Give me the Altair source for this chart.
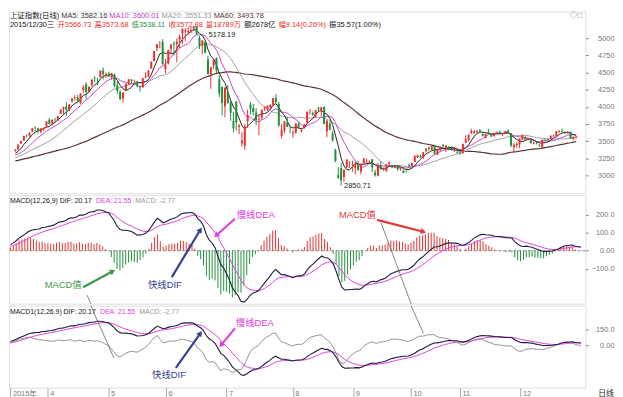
import altair as alt
import numpy as np
import pandas as pd

FONT = "Liberation Sans, Noto Sans CJK SC"
RED = "#e8302e"
GREEN = "#1f8f3a"
DIFC = "#1c1c3c"
DEAC = "#e040e0"

# ---------------- data ----------------
# closes before the visible window (Dec 2014 - 9 Mar 2015), used for MA / EMA warm-up only
pre_close = [2680, 2763, 2779, 2899, 2937, 3020, 2856, 2940, 2925, 2938, 2953, 3021, 3061, 3057, 3108, 3128, 3032, 2975, 3072, 3157, 3168, 3165, 3234,
             3351, 3352, 3374, 3294, 3285, 3229, 3235, 3222, 3336, 3376, 3116, 3173, 3323, 3343, 3351, 3383, 3352, 3305, 3262, 3210,
             3128, 3204, 3174, 3136, 3075, 3095, 3142, 3158, 3173, 3203, 3247, 3269, 3228, 3298, 3310,
             3336, 3263, 3280, 3248, 3241, 3302]

month_names = ["2015年", "4", "5", "6", "7", "8", "9", "10", "11", "12"]
month_days = [16, 21, 20, 21, 23, 21, 20, 17, 21, 22]

opens = [3294, 3289, 3282, 3357, 3378, 3466, 3510, 3586, 3577, 3640, 3696, 3684, 3635, 3675, 3712, 3811,
         3757, 3831, 3803, 3899, 3965, 4006, 3941, 4080, 4125, 4135, 4051, 4245, 4329, 4229, 4319, 4422, 4395, 4429, 4528, 4450, 4483,
         4429, 4469, 4309, 4217, 4123, 4242, 4339, 4399, 4375, 4364, 4296, 4285, 4426, 4439, 4554, 4668, 4854, 4940, 4943, 4550,
         4633, 4845, 4925, 4914, 4982, 5071, 5099, 5086, 5108, 5144, 5174, 5004, 4890, 4942, 4690, 4471, 4605, 4711, 4400, 4289, 4006,
         4214, 4058, 3793, 4077, 3707, 3468, 3432, 3789, 4034, 3983, 3917, 3813, 3842, 3974, 3962, 3992, 4029, 4126, 4042, 3574, 3650, 3770, 3665,
         3614, 3624, 3749, 3644, 3692, 3765, 3926, 3908, 3861, 3986, 3935, 3998, 3645, 3755, 3609, 3373, 3004, 3106, 2978, 3125, 3204,
         3158, 3111, 3149, 3054, 3176, 3190, 3189, 3237, 3043, 2997, 3143, 3086, 3068, 3163, 3147, 3114, 3122, 3086, 3069, 3055,
         3156, 3138, 3195, 3262, 3280, 3252, 3358, 3402, 3380, 3426, 3301, 3377, 3445, 3389, 3415, 3397, 3375,
         3337, 3330, 3325, 3475, 3514, 3617, 3620, 3638, 3655, 3603, 3547, 3631, 3603, 3576, 3625, 3633, 3603, 3610, 3654, 3616, 3413,
         3442, 3453, 3525, 3558, 3525, 3514, 3462, 3464, 3443, 3405, 3519, 3523, 3532, 3568, 3573, 3638, 3648, 3623, 3614, 3635, 3528, 3566.73]

highs = [3301, 3306, 3358, 3384, 3450, 3503, 3577, 3600, 3632, 3688, 3715, 3697, 3690, 3702, 3789, 3836,
         3817, 3835, 3866, 3961, 4002, 4069, 4035, 4128, 4168, 4175, 4195, 4318, 4356, 4294, 4398, 4444, 4420, 4529, 4572, 4500, 4513,
         4489, 4483, 4372, 4245, 4215, 4344, 4401, 4403, 4395, 4377, 4311, 4418, 4504, 4530, 4659, 4814, 4911, 4958, 4986, 4697,
         4829, 4911, 4958, 4998, 5051, 5146, 5147, 5164, 5164, 5178.19, 5176, 5029, 4968, 4966, 4744, 4577, 4691, 4720, 4456, 4297, 4287,
         4318, 4080, 3927, 4080, 3749, 3629, 3749, 3959, 4067, 4042, 3979, 3874, 3958, 4007, 4018, 4039, 4132, 4184, 4070, 3750, 3790, 3856, 3713,
         3660, 3757, 3782, 3684, 3755, 3929, 3970, 3932, 3955, 4003, 3994, 4006, 3811, 3787, 3652, 3389, 3123, 3184, 3085, 3233, 3207,
         3214, 3201, 3217, 3174, 3256, 3244, 3218, 3238, 3082, 3182, 3200, 3115, 3159, 3204, 3158, 3154, 3153, 3110, 3083, 3073,
         3173, 3184, 3288, 3300, 3305, 3338, 3394, 3422, 3426, 3448, 3369, 3421, 3457, 3442, 3429, 3419, 3417,
         3391, 3346, 3460, 3585, 3597, 3678, 3660, 3663, 3676, 3621, 3607, 3678, 3618, 3618, 3640, 3654, 3618, 3648, 3668, 3621, 3470,
         3484, 3538, 3589, 3569, 3549, 3517, 3498, 3492, 3456, 3521, 3529, 3541, 3580, 3593, 3643, 3652, 3684, 3640, 3636, 3641, 3566, 3573.68]

lows = [3279, 3273, 3282, 3345, 3378, 3457, 3501, 3549, 3560, 3630, 3641, 3615, 3618, 3647, 3702, 3740,
        3734, 3772, 3792, 3899, 3891, 3867, 3941, 4060, 4091, 4069, 4047, 4200, 4109, 4210, 4301, 4358, 4313, 4426, 4398, 4419, 4433,
        4394, 4285, 4188, 4098, 4062, 4235, 4315, 4349, 4353, 4285, 4226, 4276, 4418, 4438, 4554, 4664, 4812, 4851, 4614, 4488,
        4616, 4769, 4748, 4648, 4857, 4911, 4956, 5051, 5075, 5103, 5048, 4842, 4767, 4780, 4476, 4264, 4552, 4483, 4139, 3875, 3848,
        4043, 3795, 3629, 3653, 3602, 3421, 3373, 3691, 3886, 3872, 3734, 3587, 3813, 3937, 3938, 3964, 4007, 4058, 3712, 3537, 3613, 3704, 3615,
        3549, 3609, 3681, 3628, 3679, 3765, 3890, 3869, 3841, 3918, 3863, 3746, 3558, 3659, 3491, 3191, 2952, 2850.71, 2906, 3106, 3109,
        3053, 3019, 3066, 3012, 3170, 3178, 3175, 3049, 2983, 2984, 3084, 3066, 3051, 3159, 3104, 3105, 3065, 3070, 3033, 3039,
        3114, 3132, 3195, 3253, 3256, 3244, 3337, 3358, 3365, 3293, 3297, 3354, 3407, 3343, 3366, 3362, 3343,
        3322, 3303, 3316, 3469, 3493, 3608, 3605, 3616, 3624, 3566, 3538, 3601, 3562, 3563, 3603, 3597, 3571, 3607, 3630, 3412, 3327,
        3402, 3395, 3511, 3519, 3510, 3465, 3452, 3453, 3417, 3403, 3501, 3500, 3532, 3560, 3568, 3617, 3632, 3601, 3610, 3533, 3518, 3538.11]

closes = [3286, 3291, 3349, 3373, 3449, 3503, 3577, 3583, 3617, 3688, 3691, 3661, 3683, 3692, 3787, 3748,
          3811, 3826, 3864, 3961, 3995, 3958, 4035, 4122, 4135, 4085, 4195, 4287, 4217, 4294, 4398, 4414, 4394, 4527, 4476, 4476, 4442,
          4481, 4298, 4229, 4112, 4206, 4334, 4401, 4376, 4378, 4308, 4284, 4418, 4446, 4530, 4658, 4814, 4911, 4942, 4620, 4612,
          4829, 4910, 4910, 4948, 5023, 5132, 5114, 5106, 5121, 5166, 5062, 4887, 4967, 4786, 4478, 4577, 4691, 4527, 4193, 4053, 4277,
          4054, 3913, 3687, 3776, 3728, 3507, 3710, 3878, 3970, 3925, 3806, 3823, 3958, 3992, 4017, 4027, 4124, 4071, 3726, 3663, 3789, 3706, 3664,
          3623, 3757, 3695, 3661, 3745, 3929, 3928, 3887, 3955, 3966, 3994, 3749, 3795, 3664, 3508, 3210, 2965, 2928, 3084, 3232, 3206,
          3166, 3160, 3080, 3170, 3243, 3197, 3200, 3115, 3005, 3152, 3086, 3097, 3157, 3186, 3116, 3143, 3093, 3101, 3039, 3053,
          3143, 3183, 3287, 3293, 3263, 3338, 3391, 3387, 3426, 3321, 3369, 3413, 3429, 3435, 3376, 3388, 3383,
          3326, 3317, 3460, 3523, 3591, 3647, 3641, 3650, 3633, 3581, 3607, 3605, 3568, 3618, 3630, 3611, 3616, 3648, 3636, 3436, 3446,
          3456, 3537, 3585, 3525, 3537, 3471, 3472, 3455, 3435, 3520, 3511, 3516.19, 3580.00, 3578.96, 3642.47, 3651.77, 3636.09, 3612.49, 3627.91, 3533.78, 3563.74, 3572.88]

price_ticks = [3000, 3250, 3500, 3750, 4000, 4250, 4500, 4750, 5000]
macd_ticks = [-100, 0, 100, 200]
macd1_ticks = [0, 150]

# ---------------- derived indicators ----------------
n_pre = len(pre_close)
allc = pd.Series(pre_close + closes, dtype=float)
df = pd.DataFrame({"idx": np.arange(len(closes)), "open": opens, "high": highs, "low": lows, "close": closes})
for w in (5, 10, 20, 60):
    df[f"MA{w}"] = allc.rolling(w).mean().iloc[n_pre:].to_numpy()
ema12 = allc.ewm(span=12, adjust=False).mean()
ema26 = allc.ewm(span=26, adjust=False).mean()
dif = ema12 - ema26
dea = dif.ewm(span=9, adjust=False).mean()
df["dif"] = dif.iloc[n_pre:].to_numpy()
df["dea"] = dea.iloc[n_pre:].to_numpy()
df["macd"] = 2 * (df["dif"] - df["dea"])
df["dir"] = np.where(df["close"] >= df["open"], "up", "down")
df["mdir"] = np.where(df["macd"] >= 0, "up", "down")
FIRST = 3
df = df[df["idx"] >= FIRST].reset_index(drop=True)

starts = list(np.cumsum([0] + month_days[:-1]))
tick_vals = [FIRST] + [int(s) for s in starts[1:]]
label_expr = "".join(f"datum.value == {v} ? '{n}' : " for v, n in zip(tick_vals, month_names)) + "''"

peak_i = int(df.loc[df["high"].idxmax(), "idx"])
low_i = int(df.loc[df["low"].idxmin(), "idx"])

# ---------------- layout constants ----------------
W = 584
H1, H2, H3 = 184, 110, 83
xs = alt.Scale(domain=[2.5, 202.5], nice=False, zero=False)
ys1 = alt.Scale(domain=[2741, 5388.5], nice=False, zero=False)
ys2 = alt.Scale(domain=[-293.4, 307.7], nice=False, zero=False)
ys3 = alt.Scale(domain=[-400, 372], nice=False, zero=False)
cs = alt.Scale(domain=["up", "down"], range=[RED, GREEN])

def yaxis(values, expr=None):
    kw = dict(orient="right", values=values, title=None, grid=False, domain=False, tickSize=3,
              labelAlign="right", labelPadding=26, labelFontSize=7.5, labelColor="#777",
              labelFont="Liberation Sans", tickColor="#888", labelFlush=False, labelOverlap=False)
    if expr:
        kw["labelExpr"] = expr
    else:
        kw["format"] = "d"
    return alt.Axis(**kw)

ax1 = yaxis(price_ticks)
ax2 = yaxis(macd_ticks, "datum.value == 0 ? '0.00' : format(datum.value, '.1f')")
ax3 = yaxis(macd1_ticks, "datum.value == 0 ? '0.00' : format(datum.value, '.1f')")
axx = alt.Axis(values=tick_vals, labelExpr=label_expr, title=None, grid=False, domain=False,
               tickSize=12, tickColor="#aaa", labelPadding=-10, labelAlign="left", labelBaseline="top",
               labelOffset=2, labelFontSize=7.5, labelColor="#777", labelFont=FONT,
               labelFlush=False, labelOverlap=False)

AW = {".": 0.278, ":": 0.278, " ": 0.278, ",": 0.278, "(": 0.333, ")": 0.333, "-": 0.333, "%": 0.889,
      "/": 0.278, "M": 0.833, "A": 0.667, "C": 0.722, "D": 0.722, "I": 0.278, "F": 0.611, "E": 0.667}

def tw(s, size):
    return sum((1.0 if ord(c) > 0x2E80 else AW.get(c, 0.556)) for c in s) * size

def segs(items, x0, y, size, gap):
    out = []
    x = x0
    for text, color in items:
        out.append(alt.Chart(pd.DataFrame({"t": [text]})).mark_text(
            align="left", baseline="middle", font=FONT, fontSize=size, color=color
        ).encode(x=alt.value(x), y=alt.value(y), text="t:N"))
        x += tw(text, size) + gap
    return out

def note(x, y, text, color, ysc, xax, yax, size=9.5, align="center"):
    return alt.Chart(pd.DataFrame({"x": [x], "y": [y], "t": [text]})).mark_text(
        align=align, baseline="middle", font=FONT, fontSize=size, color=color
    ).encode(x=alt.X("x:Q", scale=xs, axis=xax), y=alt.Y("y:Q", scale=ysc, axis=yax), text="t:N")

def arrow(x1, y1, x2, y2, ang, color, ysc, xax, yax, width=2.2, head=True):
    d = pd.DataFrame({"x1": [x1], "y1": [y1], "x2": [x2], "y2": [y2], "a": [ang]})
    out = [alt.Chart(d).mark_rule(color=color, strokeWidth=width).encode(
        x=alt.X("x1:Q", scale=xs, axis=xax), y=alt.Y("y1:Q", scale=ysc, axis=yax), x2="x2:Q", y2="y2:Q")]
    if head:
        out.append(alt.Chart(d).mark_point(shape="triangle-up", filled=True, size=40, color=color, opacity=1).encode(
            x=alt.X("x2:Q", scale=xs, axis=xax), y=alt.Y("y2:Q", scale=ysc, axis=yax),
            angle=alt.Angle("a:Q", scale=None)))
    return out

# ---------------- panel 1: candles + MAs ----------------
X1 = alt.X("idx:Q", scale=xs, axis=None)
b = alt.Chart(df)
wick = b.mark_rule(strokeWidth=1).encode(
    x=X1, y=alt.Y("low:Q", scale=ys1, axis=ax1), y2="high:Q",
    color=alt.Color("dir:N", scale=cs, legend=None))
body = b.mark_bar(size=2).encode(
    x=X1, y=alt.Y("open:Q", scale=ys1, axis=ax1), y2="close:Q",
    color=alt.Color("dir:N", scale=cs, legend=None))
ma_layers = []
for name, col, sw in [("MA60", "#5a3030", 1.2), ("MA20", "#a0a0a0", 1), ("MA10", "#cc44cc", 1), ("MA5", "#222222", 1)]:
    ma_layers.append(b.mark_line(color=col, strokeWidth=sw).encode(x=X1, y=alt.Y(f"{name}:Q", scale=ys1, axis=ax1)))

peak_lbl = alt.Chart(pd.DataFrame({"x": [peak_i], "y": [max(highs)], "t": ["5178.19"]})).mark_text(
    align="left", baseline="middle", font=FONT, fontSize=7.5, color="#222", dx=15, dy=9
).encode(x=alt.X("x:Q", scale=xs, axis=None), y=alt.Y("y:Q", scale=ys1, axis=ax1), text="t:N")
low_lbl = alt.Chart(pd.DataFrame({"x": [low_i], "y": [min(lows)], "t": ["2850.71"]})).mark_text(
    align="left", baseline="middle", font=FONT, fontSize=7.5, color="#222", dx=3
).encode(x=alt.X("x:Q", scale=xs, axis=None), y=alt.Y("y:Q", scale=ys1, axis=ax1), text="t:N")

hdr1 = segs([("上证指数(日线)", "#111"), ("MA5: 3582.16", "#333"), ("MA10: 3600.01", "#c040c0"),
             ("MA20: 3551.33", "#999"), ("MA60: 3493.78", "#5a3030")], 1, 4.5, 7.5, 2)
hdr2 = segs([("2015/12/30三", "#111"), ("开3566.73", RED), ("高3573.68", RED), ("低3538.11", GREEN),
             ("收3572.88", RED), ("量18789万", RED), ("额2678亿", "#111"), ("幅9.14(0.26%)", RED),
             ("振35.57(1.00%)", "#111")], 1, 13.5, 7.5, 3)
icons = segs([("◇□", "#888")], 568, 5, 8, 0)

p1 = alt.layer(*ma_layers, wick, body, peak_lbl, low_lbl, *hdr1, *hdr2, *icons).properties(width=W, height=H1)

# ---------------- panel 2: MACD histogram + DIF/DEA ----------------
X2 = alt.X("idx:Q", scale=xs, axis=None)
zero2 = alt.Chart(pd.DataFrame({"z": [0]})).mark_rule(color="#888", strokeDash=[3, 2], strokeWidth=1).encode(
    y=alt.Y("z:Q", scale=ys2, axis=ax2))
hist2 = alt.Chart(df).mark_rule(strokeWidth=1, clip=True).encode(
    x=X2, y=alt.Y("macd:Q", scale=ys2, axis=ax2), y2=alt.datum(0),
    color=alt.Color("mdir:N", scale=cs, legend=None))
dif2 = alt.Chart(df).mark_line(color=DIFC, strokeWidth=1.1, clip=True).encode(x=X2, y=alt.Y("dif:Q", scale=ys2, axis=ax2))
dea2 = alt.Chart(df).mark_line(color=DEAC, strokeWidth=1, clip=True).encode(x=X2, y=alt.Y("dea:Q", scale=ys2, axis=ax2))
t2 = segs([("MACD(12,26,9) DIF: 20.17", "#111"), ("DEA: 21.55", DEAC), ("MACD: -2.77", "#999")], 1, 5.5, 7, 4)

GRN = "#3a9a48"
NAVY = "#34428c"
MAG = "#e040e0"
RD = "#e23a3a"
ann2 = []
ann2.append(note(21.3, -191, "MACD值", GRN, ys2, None, ax2))
ann2 += arrow(28.2, -202, 38.5, -114, 61.9, GRN, ys2, None, ax2)
ann2 += arrow(29.6, -246, 30.9, -293.4, 0, "#666", ys2, None, ax2, width=0.8, head=False)
ann2.append(note(56.6, -191, "快线DIF", NAVY, ys2, None, ax2))
ann2 += arrow(59.0, -146, 68.9, 116, 31.1, NAVY, ys2, None, ax2)
ann2.append(note(88.1, 198, "慢线DEA", MAG, ys2, None, ax2))
ann2 += arrow(80.9, 177, 74.4, 84, 228.2, MAG, ys2, None, ax2)
ann2.append(note(123.4, 198, "MACD值", RD, ys2, None, ax2))
ann2 += arrow(130.2, 171, 146.3, 105, 104.3, RD, ys2, None, ax2)
ann2 += arrow(131.6, 155, 142.0, -293.4, 0, "#666", ys2, None, ax2, width=0.8, head=False)

p2 = alt.layer(zero2, hist2, dea2, dif2, *t2, *ann2).properties(width=W, height=H2)

# ---------------- panel 3: MACD1 lines ----------------
X3 = alt.X("idx:Q", scale=xs, axis=axx)
macd3 = alt.Chart(df).mark_line(color="#777", strokeWidth=0.8, clip=True).encode(x=X3, y=alt.Y("macd:Q", scale=ys3, axis=ax3))
dea3 = alt.Chart(df).mark_line(color=DEAC, strokeWidth=1, clip=True).encode(x=X3, y=alt.Y("dea:Q", scale=ys3, axis=ax3))
dif3 = alt.Chart(df).mark_line(color=DIFC, strokeWidth=1.1, clip=True).encode(x=X3, y=alt.Y("dif:Q", scale=ys3, axis=ax3))
t3 = segs([("MACD1(12,26,9) DIF: 20.17", "#111"), ("DEA: 21.55", DEAC), ("MACD: -2.77", "#999")], 1, 6, 7, 4)
ann3 = []
ann3 += arrow(30.9, 372, 38.9, -121, 0, "#666", ys3, axx, ax3, width=0.8, head=False)
ann3.append(note(58.0, -279, "快线DIF", NAVY, ys3, axx, ax3))
ann3 += arrow(60.4, -214, 68.9, 112, 35.5, NAVY, ys3, axx, ax3)
ann3.append(note(87.8, 205, "慢线DEA", MAG, ys3, axx, ax3))
ann3 += arrow(80.9, 158, 76.1, 0, 219.5, MAG, ys3, axx, ax3)
ann3 += arrow(142.0, 372, 146.3, 112, 0, "#666", ys3, axx, ax3, width=0.8, head=False)
rixian = segs([("日线", "#222")], W + 13, H3 + 7, 8, 0)

p3 = alt.layer(macd3, dea3, dif3, *t3, *ann3, *rixian).properties(width=W, height=H3)

chart = alt.vconcat(p1, p2, p3, spacing=0).properties(
    padding={"left": 0, "top": 0, "right": 0, "bottom": 0}
).configure_view(stroke="#9a9a9a", strokeWidth=1).configure(background="white")

chart.save("out.html", embed_options={"renderer": "svg", "actions": False})
